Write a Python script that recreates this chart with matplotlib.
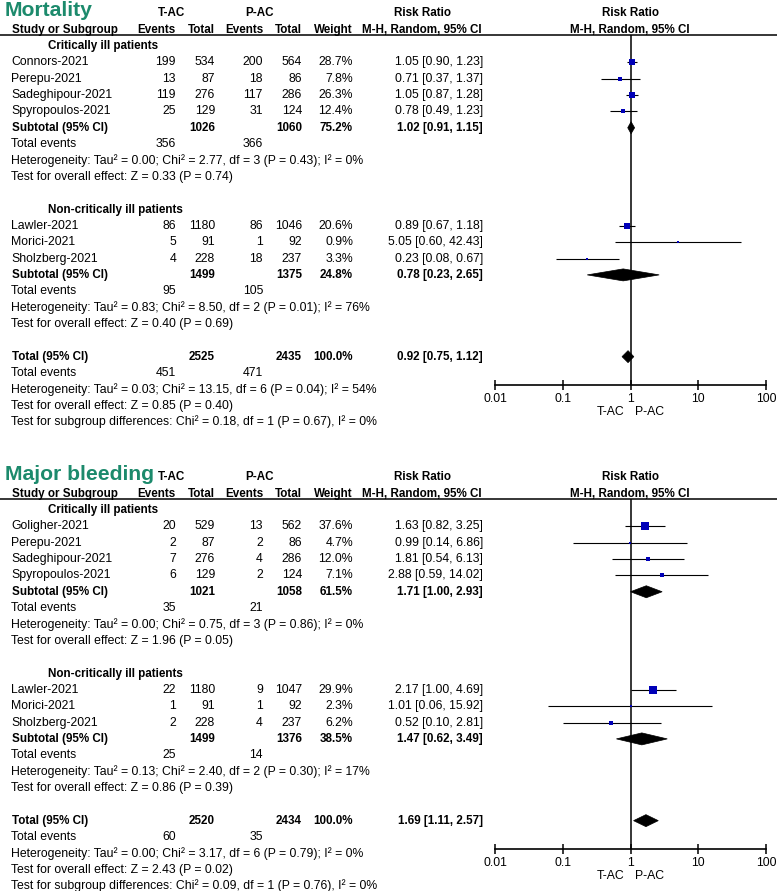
import matplotlib
matplotlib.use("Agg")
import matplotlib.pyplot as plt
from matplotlib.patches import Polygon
import numpy as np

plt.rcParams['font.family'] = ['Liberation Sans', 'DejaVu Sans']

# ---------------- data ----------------
mort_groups = ["Critically ill patients", "Non-critically ill patients"]
mort_studies = [["Connors-2021", "Perepu-2021", "Sadeghipour-2021", "Spyropoulos-2021"],
                ["Lawler-2021", "Morici-2021", "Sholzberg-2021"]]
mort_tac_events = [[199, 13, 119, 25], [86, 5, 4]]
mort_tac_total = [[534, 87, 276, 129], [1180, 91, 228]]
mort_pac_events = [[200, 18, 117, 31], [86, 1, 18]]
mort_pac_total = [[564, 86, 286, 124], [1046, 92, 237]]
mort_weight = [[28.7, 7.8, 26.3, 12.4], [20.6, 0.9, 3.3]]
mort_rr = [[1.05, 0.71, 1.05, 0.78], [0.89, 5.05, 0.23]]
mort_lo = [[0.90, 0.37, 0.87, 0.49], [0.67, 0.60, 0.08]]
mort_hi = [[1.23, 1.37, 1.28, 1.23], [1.18, 42.43, 0.67]]
mort_sub_tac_total = [1026, 1499]
mort_sub_pac_total = [1060, 1375]
mort_sub_weight = [75.2, 24.8]
mort_sub_rr = [1.02, 0.78]
mort_sub_lo = [0.91, 0.23]
mort_sub_hi = [1.15, 2.65]
mort_sub_tac_events = [356, 95]
mort_sub_pac_events = [366, 105]
mort_sub_het = ["Tau² = 0.00; Chi² = 2.77, df = 3 (P = 0.43); I² = 0%",
                "Tau² = 0.83; Chi² = 8.50, df = 2 (P = 0.01); I² = 76%"]
mort_sub_z = ["Z = 0.33 (P = 0.74)", "Z = 0.40 (P = 0.69)"]
mort_tot = dict(tac_total=2525, pac_total=2435, weight=100.0, rr=0.92, lo=0.75, hi=1.12,
                tac_events=451, pac_events=471,
                het="Tau² = 0.03; Chi² = 13.15, df = 6 (P = 0.04); I² = 54%",
                z="Z = 0.85 (P = 0.40)",
                sub="Chi² = 0.18, df = 1 (P = 0.67), I² = 0%")

bleed_groups = ["Critically ill patients", "Non-critically ill patients"]
bleed_studies = [["Goligher-2021", "Perepu-2021", "Sadeghipour-2021", "Spyropoulos-2021"],
                 ["Lawler-2021", "Morici-2021", "Sholzberg-2021"]]
bleed_tac_events = [[20, 2, 7, 6], [22, 1, 2]]
bleed_tac_total = [[529, 87, 276, 129], [1180, 91, 228]]
bleed_pac_events = [[13, 2, 4, 2], [9, 1, 4]]
bleed_pac_total = [[562, 86, 286, 124], [1047, 92, 237]]
bleed_weight = [[37.6, 4.7, 12.0, 7.1], [29.9, 2.3, 6.2]]
bleed_rr = [[1.63, 0.99, 1.81, 2.88], [2.17, 1.01, 0.52]]
bleed_lo = [[0.82, 0.14, 0.54, 0.59], [1.00, 0.06, 0.10]]
bleed_hi = [[3.25, 6.86, 6.13, 14.02], [4.69, 15.92, 2.81]]
bleed_sub_tac_total = [1021, 1499]
bleed_sub_pac_total = [1058, 1376]
bleed_sub_weight = [61.5, 38.5]
bleed_sub_rr = [1.71, 1.47]
bleed_sub_lo = [1.00, 0.62]
bleed_sub_hi = [2.93, 3.49]
bleed_sub_tac_events = [35, 25]
bleed_sub_pac_events = [21, 14]
bleed_sub_het = ["Tau² = 0.00; Chi² = 0.75, df = 3 (P = 0.86); I² = 0%",
                 "Tau² = 0.13; Chi² = 2.40, df = 2 (P = 0.30); I² = 17%"]
bleed_sub_z = ["Z = 1.96 (P = 0.05)", "Z = 0.86 (P = 0.39)"]
bleed_tot = dict(tac_total=2520, pac_total=2434, weight=100.0, rr=1.69, lo=1.11, hi=2.57,
                 tac_events=60, pac_events=35,
                 het="Tau² = 0.00; Chi² = 3.17, df = 6 (P = 0.79); I² = 0%",
                 z="Z = 2.43 (P = 0.02)",
                 sub="Chi² = 0.09, df = 1 (P = 0.76), I² = 0%")

tick_values = [0.01, 0.1, 1, 10, 100]
tick_labels = ["0.01", "0.1", "1", "10", "100"]

panels = [
    dict(title="Mortality", groups=mort_groups, studies=mort_studies,
         te=mort_tac_events, tt=mort_tac_total, pe=mort_pac_events, pt=mort_pac_total,
         w=mort_weight, rr=mort_rr, lo=mort_lo, hi=mort_hi,
         s_tt=mort_sub_tac_total, s_pt=mort_sub_pac_total, s_w=mort_sub_weight,
         s_rr=mort_sub_rr, s_lo=mort_sub_lo, s_hi=mort_sub_hi,
         s_te=mort_sub_tac_events, s_pe=mort_sub_pac_events,
         s_het=mort_sub_het, s_z=mort_sub_z, tot=mort_tot, off=0.0),
    dict(title="Major bleeding", groups=bleed_groups, studies=bleed_studies,
         te=bleed_tac_events, tt=bleed_tac_total, pe=bleed_pac_events, pt=bleed_pac_total,
         w=bleed_weight, rr=bleed_rr, lo=bleed_lo, hi=bleed_hi,
         s_tt=bleed_sub_tac_total, s_pt=bleed_sub_pac_total, s_w=bleed_sub_weight,
         s_rr=bleed_sub_rr, s_lo=bleed_sub_lo, s_hi=bleed_sub_hi,
         s_te=bleed_sub_tac_events, s_pe=bleed_sub_pac_events,
         s_het=bleed_sub_het, s_z=bleed_sub_z, tot=bleed_tot, off=464.0),
]

# ---------------- layout ----------------
W, H = 777, 891
fig = plt.figure(figsize=(W / 100, H / 100), dpi=100)
axt = fig.add_axes([0, 0, 1, 1])
axt.set_xlim(0, W)
axt.set_ylim(H, 0)
axt.axis('off')

GREEN = "#1c8a6c"
BLUE = "#0000b8"
FS = 8.8
FSB = 8.4
ROW0, PITCH = 46.0, 16.35
X_NAME, X_GROUP = 11, 48
X_TE, X_TT, X_PE, X_PT, X_W, X_RR = 176, 215, 263, 302, 353, 483
X_RRH, X_PLOTH = 422, 630
PLOT_L, PLOT_R = 495, 766


def txt(x, y, s, ha='left', bold=False, **kw):
    axt.text(x, y, s, ha=ha, va='center', fontsize=FSB if bold else FS,
             fontweight='bold' if bold else 'normal', color='black', **kw)


def rrtxt(rr, lo, hi):
    return f"{rr:.2f} [{lo:.2f}, {hi:.2f}]"


for p in panels:
    off = p['off']
    ry = lambda i: off + ROW0 + PITCH * i

    # title and headers
    axt.text(5, off + 15.5, p['title'], ha='left', va='baseline', fontsize=15.2,
             fontweight='bold', color=GREEN)
    txt(172, ry(-2), "T-AC", ha='center', bold=True)
    txt(259, ry(-2), "P-AC", ha='center', bold=True)
    txt(X_RRH, ry(-2), "Risk Ratio", ha='center', bold=True)
    txt(X_PLOTH, ry(-2), "Risk Ratio", ha='center', bold=True)
    txt(12, ry(-1), "Study or Subgroup", bold=True)
    txt(X_TE, ry(-1), "Events", ha='right', bold=True)
    txt(X_TT, ry(-1), "Total", ha='right', bold=True)
    txt(X_PE, ry(-1), "Events", ha='right', bold=True)
    txt(X_PT, ry(-1), "Total", ha='right', bold=True)
    txt(X_W, ry(-1), "Weight", ha='right', bold=True)
    txt(X_RRH, ry(-1), "M-H, Random, 95% CI", ha='center', bold=True)
    txt(X_PLOTH, ry(-1), "M-H, Random, 95% CI", ha='center', bold=True)
    axt.plot([0, W], [off + 35, off + 35], color='black', lw=1.1, solid_capstyle='butt')

    # forest axes
    fax = fig.add_axes([PLOT_L / W, 1 - (off + 385) / H, (PLOT_R - PLOT_L) / W, 350 / H])
    fax.set_xscale('log')
    fax.set_xlim(tick_values[0], tick_values[-1])
    fax.set_ylim(off + 385, off + 35)
    fax.patch.set_alpha(0)
    for s in ['top', 'left', 'right']:
        fax.spines[s].set_visible(False)
    fax.spines['bottom'].set_linewidth(1.2)
    fax.set_xticks(tick_values)
    fax.set_xticklabels(tick_labels)
    fax.minorticks_off()
    fax.tick_params(axis='x', direction='inout', length=7, width=1.1, pad=2,
                    labelsize=FS, colors='black')
    fax.set_yticks([])
    fax.axvline(1, color='black', lw=1.1, zorder=1)

    def diamond(rr, lo, hi, y, h=12):
        fax.add_patch(Polygon([(lo, y), (rr, y - h / 2), (hi, y), (rr, y + h / 2)],
                              closed=True, facecolor='black', edgecolor='black', lw=0.5,
                              zorder=3))

    i = 0
    for g in range(len(p['groups'])):
        txt(X_GROUP, ry(i), p['groups'][g], bold=True)
        i += 1
        for k, name in enumerate(p['studies'][g]):
            y = ry(i)
            txt(X_NAME, y, name)
            txt(X_TE, y, str(p['te'][g][k]), ha='right')
            txt(X_TT, y, str(p['tt'][g][k]), ha='right')
            txt(X_PE, y, str(p['pe'][g][k]), ha='right')
            txt(X_PT, y, str(p['pt'][g][k]), ha='right')
            txt(X_W, y, f"{p['w'][g][k]:.1f}%", ha='right')
            txt(X_RR, y, rrtxt(p['rr'][g][k], p['lo'][g][k], p['hi'][g][k]), ha='right')
            fax.plot([p['lo'][g][k], p['hi'][g][k]], [y, y], color='black', lw=0.8,
                     solid_capstyle='butt', zorder=2)
            side = max(1.3 * np.sqrt(p['w'][g][k]), 2.0)
            fax.plot([p['rr'][g][k]], [y], marker='s', markersize=side * 0.72,
                     color=BLUE, markeredgewidth=0, linestyle='none', zorder=4)
            i += 1
        y = ry(i)
        txt(12, y, "Subtotal (95% CI)", bold=True)
        txt(X_TT, y, str(p['s_tt'][g]), ha='right', bold=True)
        txt(X_PT, y, str(p['s_pt'][g]), ha='right', bold=True)
        txt(X_W, y, f"{p['s_w'][g]:.1f}%", ha='right', bold=True)
        txt(X_RR, y, rrtxt(p['s_rr'][g], p['s_lo'][g], p['s_hi'][g]), ha='right', bold=True)
        diamond(p['s_rr'][g], p['s_lo'][g], p['s_hi'][g], y)
        i += 1
        y = ry(i)
        txt(X_NAME, y, "Total events")
        txt(X_TE, y, str(p['s_te'][g]), ha='right')
        txt(X_PE, y, str(p['s_pe'][g]), ha='right')
        i += 1
        txt(X_NAME, ry(i), "Heterogeneity: " + p['s_het'][g])
        i += 1
        txt(X_NAME, ry(i), "Test for overall effect: " + p['s_z'][g])
        i += 2

    t = p['tot']
    y = ry(i)
    txt(12, y, "Total (95% CI)", bold=True)
    txt(X_TT, y, str(t['tac_total']), ha='right', bold=True)
    txt(X_PT, y, str(t['pac_total']), ha='right', bold=True)
    txt(X_W, y, f"{t['weight']:.1f}%", ha='right', bold=True)
    txt(X_RR, y, rrtxt(t['rr'], t['lo'], t['hi']), ha='right', bold=True)
    diamond(t['rr'], t['lo'], t['hi'], y)
    i += 1
    y = ry(i)
    txt(X_NAME, y, "Total events")
    txt(X_TE, y, str(t['tac_events']), ha='right')
    txt(X_PE, y, str(t['pac_events']), ha='right')
    i += 1
    txt(X_NAME, ry(i), "Heterogeneity: " + t['het'])
    i += 1
    txt(X_NAME, ry(i), "Test for overall effect: " + t['z'])
    i += 1
    txt(X_NAME, ry(i), "Test for subgroup differences: " + t['sub'])

    # favours labels
    txt(625, off + 412, "T-AC", ha='right')
    txt(635, off + 412, "P-AC", ha='left')

fig.savefig("out.png", dpi=100)
